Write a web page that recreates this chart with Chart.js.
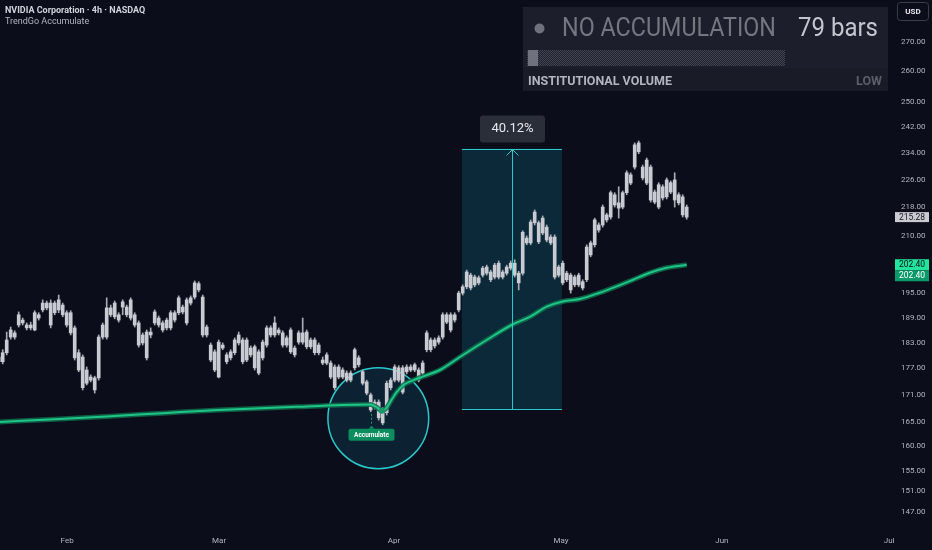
<!DOCTYPE html>
<html><head><meta charset="utf-8">
<script src="https://cdn.jsdelivr.net/npm/chart.js@4.4.1/dist/chart.umd.min.js"></script>
<style>
html,body{margin:0;padding:0;background:#0b0e1a;overflow:hidden;}
#wrap{width:932px;height:550px;}
canvas{display:block;}
</style></head>
<body><div id="wrap"><canvas id="c" width="932" height="550"></canvas></div>
<script>
// ---- data (4h candles, bar index 0..172) ----
const opens = [
178.5,178.5,180.6,186.0,184.3,189.7,188.4,187.2,186.5,186.0,
188.9,190.9,192.6,187.2,190.2,193.4,192.1,190.2,190.2,186.5,
180.6,179.6,176.6,175.0,172.1,174.8,184.3,184.3,189.7,192.6,
188.4,192.9,189.7,193.4,189.7,187.7,184.8,179.4,184.8,187.7,
188.9,187.7,186.5,186.5,188.4,190.2,191.6,187.7,192.6,194.1,
197.5,194.1,186.7,182.4,176.6,175.0,182.4,180.1,179.4,180.6,
184.8,183.6,178.9,181.7,182.0,175.9,179.4,182.4,186.5,184.8,
186.0,185.3,182.4,186.0,180.1,183.1,185.3,182.0,183.6,183.6,
182.4,178.9,180.1,178.2,172.6,177.3,176.6,175.9,174.3,177.1,
179.4,176.2,173.9,171.0,169.4,169.4,164.9,167.1,172.6,174.3,
177.1,171.6,176.2,177.3,177.8,174.3,175.9,181.3,183.6,182.2,
183.1,184.3,189.7,186.0,188.4,190.9,195.1,196.7,199.7,197.2,
197.7,199.7,201.8,198.5,199.2,202.8,199.2,200.2,202.8,202.8,
197.7,200.2,209.5,208.2,213.7,213.7,210.9,212.5,209.8,209.8,
199.7,202.8,198.5,199.7,197.2,199.7,196.4,198.5,205.0,207.7,
213.1,213.1,215.9,215.3,221.6,217.8,218.1,222.2,225.0,229.7,
237.0,229.7,231.8,229.7,219.5,218.1,223.9,221.0,225.1,225.9,
219.3,221.0,218.1];
const highs = [
180.1,181.3,185.5,186.7,185.8,190.4,188.9,187.7,187.9,190.7,
190.2,193.4,193.1,193.4,193.1,194.6,192.6,190.7,190.7,187.0,
181.3,180.1,177.3,175.5,175.2,184.8,187.7,193.9,192.1,193.1,
190.2,193.4,192.1,193.9,190.2,188.2,185.3,186.0,186.5,190.9,
189.4,188.2,188.9,190.7,190.7,194.4,192.1,193.9,194.4,198.2,
198.0,194.6,187.2,182.9,181.3,183.6,182.9,180.6,181.3,184.1,
185.5,184.1,184.1,182.2,182.4,181.3,183.6,187.0,187.0,189.2,
186.5,185.8,184.6,186.5,182.2,185.8,188.9,186.0,184.1,184.1,
182.9,179.6,180.6,178.7,177.8,177.8,177.1,176.4,176.4,181.7,
179.9,176.6,174.3,171.4,169.9,169.9,168.2,174.1,174.8,177.8,
177.6,177.6,177.8,177.8,178.2,177.1,178.7,185.8,184.1,184.1,
184.6,190.2,190.2,190.2,190.2,195.6,197.2,201.0,200.2,199.7,
199.5,202.0,202.3,201.0,202.8,203.4,201.0,202.3,203.4,203.7,
200.7,211.5,210.1,214.5,217.3,214.2,215.6,213.1,210.4,210.4,
202.3,203.4,200.7,200.2,199.7,200.2,198.5,207.7,208.7,215.0,
213.7,218.7,216.4,222.7,222.2,223.9,222.7,228.6,228.0,237.0,
237.6,230.3,232.4,230.3,223.0,225.1,224.5,226.5,225.6,228.0,
222.2,221.6,218.7];
const lows = [
177.8,178.0,180.1,183.8,183.8,186.7,187.2,186.0,186.0,185.8,
188.4,190.4,190.9,186.5,189.7,190.2,189.2,186.7,184.8,178.9,
176.2,172.1,173.2,173.9,171.4,174.3,183.8,183.8,189.2,188.7,
187.9,189.7,189.2,188.4,186.7,181.9,182.4,178.9,184.1,187.2,
186.7,185.5,186.0,186.0,187.9,189.7,189.9,187.2,192.1,193.6,
195.4,184.3,184.3,178.5,176.2,174.8,181.3,178.0,178.9,180.1,
182.4,178.0,178.5,179.6,176.6,175.5,178.9,181.9,184.3,184.3,
184.8,181.9,181.9,180.4,179.6,182.6,182.6,181.5,181.5,180.1,
180.1,177.8,177.8,174.6,172.1,174.6,174.6,173.9,173.9,176.6,
177.3,173.2,171.0,167.3,167.9,165.5,164.5,166.6,172.1,173.9,
173.9,171.2,175.7,176.2,176.2,173.9,175.5,180.8,180.8,181.7,
182.6,183.8,187.5,185.5,187.9,190.4,194.6,196.2,195.9,196.7,
197.2,199.2,199.7,198.0,198.7,198.7,198.7,199.7,201.0,199.2,
195.9,199.7,207.7,207.7,213.1,208.0,210.4,208.5,207.7,198.7,
199.2,197.2,198.0,195.1,196.7,196.7,195.9,198.0,204.5,207.1,
211.1,212.5,213.9,214.7,218.1,215.0,217.6,221.6,224.5,229.1,
233.7,225.9,224.5,219.5,219.0,217.6,220.1,220.4,221.9,218.1,
218.7,215.3,214.7];
const closes = [
179.6,180.6,183.6,184.3,185.3,187.2,187.7,186.5,187.2,190.2,
189.7,192.6,191.4,192.6,192.6,190.9,189.7,187.2,185.3,179.4,
176.6,172.6,173.6,174.3,174.8,184.3,187.2,191.4,191.4,189.2,
189.7,191.6,191.6,188.9,187.2,182.4,182.9,185.5,185.5,190.4,
187.2,186.0,188.4,190.2,190.2,193.9,190.4,193.4,193.9,197.7,
195.9,184.8,184.8,178.9,180.8,183.1,181.7,178.5,180.8,183.6,
182.9,178.5,183.6,180.1,177.1,180.8,183.1,186.5,184.8,187.7,
185.3,182.4,184.1,180.8,181.7,185.3,183.1,185.5,182.0,180.6,
180.6,178.2,178.2,175.0,177.3,175.0,175.0,174.3,175.9,181.3,
177.8,173.6,171.4,167.7,168.4,166.0,167.7,173.6,174.3,177.3,
174.3,177.1,177.3,176.6,176.6,176.6,178.2,185.3,181.3,183.6,
184.1,189.7,187.9,189.7,189.7,195.1,196.7,200.5,196.4,199.2,
199.0,201.5,200.2,200.5,202.3,199.2,200.5,201.8,201.5,199.7,
200.2,211.1,208.2,213.9,216.7,208.5,215.0,209.0,208.2,199.2,
201.8,197.7,200.2,195.9,199.2,197.2,198.0,207.1,208.2,214.5,
211.7,218.1,214.5,222.2,218.7,219.3,222.2,228.0,227.4,236.4,
234.3,226.5,225.0,220.1,222.4,224.5,220.7,225.9,222.4,220.1,
221.6,215.9,215.28];

// TrendGo accumulate line (read at sample bar positions)
const maIdx = [0,14,27,41,55,75,93,94.6,95.8,97,98.2,99.5,101.2,103.7,106,110.3,115.3,122,128.2,132.8,137,141,145.3,150.3,154.5,158.6,162.8,167,172];
const maVal = [165.1,165.7,166.3,167.0,167.7,168.4,168.9,168.2,167.5,168.2,169.9,171.6,173.2,174.3,175.1,176.6,179.6,183.6,187.2,189.2,191.7,193.0,193.6,195.2,196.8,198.5,200.3,201.6,202.4];

const monthLabels = ['Feb','Mar','Apr','May','Jun','Jul'];
const monthPos = [17.1,55.1,98.8,140.6,180.8,222.6];
const priceTicks = [147,151,155,160,165,171,177,183,189,195,210,218,226,234,242,250,260,270];

const lastClose = 215.28;
const maLast = 202.40;
const measureFrom = 115.8, measureTo = 140.8, measureLow = 167.9, measurePct = 40.12;
const accumBar = 93;
const circleIdx = 94.9, circlePrice = 165.9, circleRadiusBars = 12.6;
const accumDotIdx = 95.8, accumDotVal = 167.5;
const panelStatus = 'NO ACCUMULATION', panelBars = '79 bars', panelVolLabel = 'INSTITUTIONAL VOLUME', panelVolLevel = 'LOW';

const xMin = 0.325, xMax = 223.575, yMin = 144.1, yMax = 285.2;
const BG = '#0b0e1a';
const FONT = 'Roboto, "Noto Sans", sans-serif';

function rrect(ctx,x,y,w,h,r){ctx.beginPath();ctx.moveTo(x+r,y);ctx.lineTo(x+w-r,y);ctx.quadraticCurveTo(x+w,y,x+w,y+r);ctx.lineTo(x+w,y+h-r);ctx.quadraticCurveTo(x+w,y+h,x+w-r,y+h);ctx.lineTo(x+r,y+h);ctx.quadraticCurveTo(x,y+h,x,y+h-r);ctx.lineTo(x,y+r);ctx.quadraticCurveTo(x,y,x+r,y);ctx.closePath();}

const overlay = {
  id:'overlay',
  beforeDraw(chart){const c=chart.ctx;c.save();c.fillStyle=BG;c.fillRect(0,0,chart.width,chart.height);c.restore();},
  beforeDatasetsDraw(chart){
    const c=chart.ctx, x=chart.scales.x, y=chart.scales.y;
    c.save();
    const x1=x.getPixelForValue(measureFrom), x2=x.getPixelForValue(measureTo);
    const yb=y.getPixelForValue(measureLow), yt=y.getPixelForValue(measureLow*(1+measurePct/100));
    c.fillStyle='rgba(18,110,140,0.28)';
    c.fillRect(x1,yt,x2-x1,yb-yt);
    const cx=x.getPixelForValue(circleIdx), cy=y.getPixelForValue(circlePrice);
    const r=x.getPixelForValue(circleIdx+circleRadiusBars)-cx;
    c.beginPath();c.arc(cx,cy,r,0,Math.PI*2);
    c.fillStyle='rgba(18,110,140,0.22)';c.fill();
    c.lineWidth=1.5;c.strokeStyle='#2cc7c9';c.stroke();
    c.restore();
  },
  afterDatasetsDraw(chart){
    const c=chart.ctx, x=chart.scales.x, y=chart.scales.y;
    c.save();
    const x1=x.getPixelForValue(measureFrom), x2=x.getPixelForValue(measureTo);
    const yb=Math.round(y.getPixelForValue(measureLow))+0.5, yt=Math.round(y.getPixelForValue(measureLow*(1+measurePct/100)))+0.5;
    const xc=Math.round((x1+x2)/2)+0.5;
    c.strokeStyle='#2cc7c9';c.lineWidth=1;
    c.beginPath();c.moveTo(x1,yt);c.lineTo(x2,yt);c.moveTo(x1,yb);c.lineTo(x2,yb);
    c.moveTo(xc,yb);c.lineTo(xc,yt);
    c.moveTo(xc-6,yt+6);c.lineTo(xc,yt);c.lineTo(xc+6,yt+6);c.stroke();
    // percent label
    c.fillStyle='#2a2e39';rrect(c,xc-32.5,yt-34,65,27,3);c.fill();
    c.fillStyle='#e6e8ee';c.font='13px '+FONT;c.textAlign='center';c.textBaseline='middle';
    c.fillText(measurePct.toFixed(2)+'%',xc,yt-20.5);
    // accumulate marker dot on line
    const dx=x.getPixelForValue(accumDotIdx), dy=y.getPixelForValue(accumDotVal);
    c.beginPath();c.arc(dx,dy,3,0,Math.PI*2);c.fillStyle='#159a68';c.fill();
    // accumulate label
    const ax=Math.round(x.getPixelForValue(accumBar))+0.5, ay=y.getPixelForValue(lows[accumBar]);
    c.setLineDash([2,2]);c.strokeStyle='#1a9e6c';c.beginPath();c.moveTo(ax,ay+2);c.lineTo(ax,ay+14);c.stroke();c.setLineDash([]);
    c.fillStyle='#0c8d5e';
    c.beginPath();c.moveTo(ax-3,ay+17);c.lineTo(ax,ay+14);c.lineTo(ax+3,ay+17);c.closePath();c.fill();
    rrect(c,ax-23,ay+17,46,12,2);c.fill();
    c.fillStyle='#ffffff';c.font='bold 6.5px '+FONT;c.textAlign='center';c.textBaseline='middle';
    c.fillText('Accumulate',ax,ay+23.5);
    c.restore();
  },
  afterDraw(chart){
    const c=chart.ctx, y=chart.scales.y, ca=chart.chartArea;
    c.save();
    // title
    c.textAlign='left';c.textBaseline='middle';
    c.fillStyle='#d1d4dc';c.font='bold 9px '+FONT;
    c.fillText('NVIDIA Corporation \u00b7 4h \u00b7 NASDAQ',5,11);
    c.fillStyle='#b2b5be';c.font='9px '+FONT;
    c.fillText('TrendGo Accumulate',5,22);
    // panel
    c.fillStyle='#1c1f2b';c.fillRect(523,7,365,84);
    c.fillStyle='#191c27';c.fillRect(523,68,365,23);
    c.beginPath();c.arc(539.5,28.5,5,0,Math.PI*2);c.fillStyle='#6f727c';c.fill();
    c.textBaseline='alphabetic';
    c.font='25px '+FONT;c.fillStyle='#74777f';c.fillText(panelStatus,562,36,214);
    c.fillStyle='#c3c6ce';c.fillText(panelBars,798,36,80);
    const pc=document.createElement('canvas');pc.width=2;pc.height=2;const pctx=pc.getContext('2d');
    pctx.fillStyle='#20232f';pctx.fillRect(0,0,2,2);pctx.fillStyle='#41444f';pctx.fillRect(0,0,1,1);pctx.fillRect(1,1,1,1);
    c.fillStyle=c.createPattern(pc,'repeat');c.fillRect(527,50,258,16);
    c.fillStyle='#6f727c';c.fillRect(528,50,10,16);
    c.font='bold 12.5px '+FONT;c.fillStyle='#b2b5be';c.fillText(panelVolLabel,528,85,149);
    c.fillStyle='#5b5e69';c.textAlign='right';c.fillText(panelVolLevel,882,85);
    // USD button
    c.fillStyle=BG;rrect(c,897.5,2.5,31,18,3);c.fill();c.strokeStyle='#3a3e49';c.lineWidth=1;c.stroke();
    c.fillStyle='#e6e8ee';c.font='bold 8px '+FONT;c.textAlign='center';c.textBaseline='middle';c.fillText('USD',913,11.5);
    // price labels
    const lx=ca.right+2, lw=34;
    const yl=y.getPixelForValue(lastClose);
    c.fillStyle='#c9cbd1';c.fillRect(lx,yl-5,lw,10);
    c.fillStyle='#131722';c.font='8.5px '+FONT;c.fillText(lastClose.toFixed(2),lx+lw/2,yl+0.5);
    const ym=y.getPixelForValue(maLast);
    c.fillStyle='#22e49c';c.fillRect(lx,ym-5.5,lw,11);
    c.fillStyle='#0b0e1a';c.fillText(maLast.toFixed(2),lx+lw/2,ym);
    c.fillStyle='#0a9a6a';c.fillRect(lx,ym+5.5,lw,11);
    c.fillStyle='#ffffff';c.fillText(maLast.toFixed(2),lx+lw/2,ym+11);
    c.restore();
  }
};

const wickData = highs.map((h,i)=>({x:i, y:[lows[i], h]}));
const bodyData = opens.map((o,i)=>({x:i, y:[o, closes[i]]}));
const maData = maIdx.map((v,k)=>({x:v, y:maVal[k]}));

new Chart(document.getElementById('c'), {
  type:'bar',
  data:{datasets:[
    {type:'line', data:maData, borderColor:'#1fc488', borderWidth:2, pointRadius:0, cubicInterpolationMode:'monotone', order:0},
    {type:'line', data:maData, borderColor:'rgba(14,108,74,0.85)', borderWidth:5, pointRadius:0, cubicInterpolationMode:'monotone', order:1},
    {type:'bar', data:bodyData, backgroundColor:'#c8cbd2', barThickness:3, grouped:false, minBarLength:1, order:2},
    {type:'bar', data:wickData, backgroundColor:'#a9acb4', barThickness:1, grouped:false, order:3}
  ]},
  options:{
    responsive:false, animation:false,
    layout:{padding:0},
    plugins:{legend:{display:false}, tooltip:{enabled:false}},
    scales:{
      x:{type:'linear', min:xMin, max:xMax, bounds:'data', offset:false,
        grid:{display:false, drawTicks:false}, border:{display:false},
        ticks:{color:'#b2b5be', font:{family:FONT, size:8}, padding:9, maxRotation:0, autoSkip:false,
          callback:(v,i)=>monthLabels[i]},
        afterBuildTicks:s=>{s.ticks=monthPos.map(v=>({value:v}));},
        afterFit:s=>{s.height=23; s.paddingLeft=0; s.paddingRight=0;}
      },
      y:{type:'logarithmic', position:'right', min:yMin, max:yMax, bounds:'data',
        grid:{display:false, drawTicks:false}, border:{display:false},
        ticks:{color:'#b2b5be', font:{family:FONT, size:8}, padding:8, autoSkip:false,
          callback:v=>Number(v).toFixed(2)},
        afterBuildTicks:s=>{s.ticks=priceTicks.map(v=>({value:v}));},
        afterFit:s=>{s.width=39; s.paddingTop=0; s.paddingBottom=0;}
      }
    }
  },
  plugins:[overlay]
});
</script></body></html>
